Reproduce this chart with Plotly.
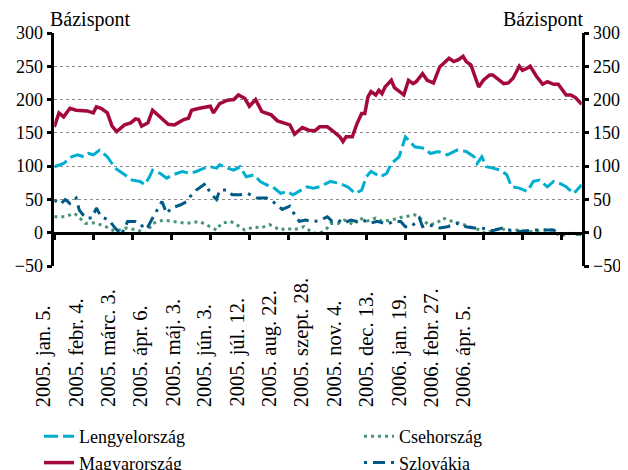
"""
Bázispont-különbözetek (Lengyel-, Magyar-, Cseh-, Szlovákország), 2005-2006
"""
import plotly.graph_objects as go

# X tengely: megfigyelések sorszáma (napi adatok), értékek bázispontban
hu_idx = [0, 3, 6, 10, 14, 21, 25, 27, 30, 34,
          37, 40, 45, 49, 52, 54, 56, 60, 63, 68,
          73, 77, 83, 86, 88, 93, 100, 102, 106, 111,
          115, 118, 122, 125, 129, 133, 136, 139, 143, 148,
          151, 154, 159, 163, 167, 170, 175, 179, 183, 185,
          187, 191, 194, 197, 199, 201, 203, 206, 208, 210,
          212, 216, 218, 224, 227, 230, 232, 236, 239, 243,
          247, 253, 256, 259, 262, 264, 267, 270, 272, 275,
          279, 281, 285, 288, 291, 294, 298, 300, 303, 305,
          309, 313, 316, 320, 323, 328, 331, 334, 338]
hu_val = [159, 180, 174, 187, 184, 183, 180, 189, 187, 180,
          160, 152, 162, 165, 171, 170, 160, 165, 184, 174,
          163, 162, 170, 172, 184, 187, 190, 180, 194, 199,
          200, 207, 202, 190, 200, 182, 180, 177, 168, 165,
          162, 148, 158, 154, 153, 159, 159, 152, 144, 137,
          144, 144, 164, 179, 179, 204, 212, 207, 214, 209,
          219, 229, 218, 207, 229, 224, 227, 239, 229, 225,
          249, 262, 257, 260, 265, 257, 252, 232, 219, 229,
          237, 237, 229, 224, 225, 232, 250, 244, 247, 250,
          235, 223, 227, 223, 223, 207, 207, 203, 193]

pl_idx = [0, 6, 11, 15, 19, 22, 25, 29, 34, 39,
          44, 50, 55, 58, 61, 63, 68, 72, 76, 82,
          87, 91, 96, 100, 104, 106, 111, 115, 119, 123,
          128, 132, 136, 140, 145, 149, 153, 157, 162, 166,
          170, 177, 183, 188, 193, 197, 200, 203, 209, 213,
          216, 221, 223, 225, 227, 231, 237, 241, 246, 252,
          258, 264, 269, 271, 274, 277, 281, 286, 290, 293,
          298, 303, 307, 311, 316, 320, 324, 328, 333, 336,
          338]
pl_val = [99, 104, 114, 117, 114, 119, 117, 124, 114, 97,
          89, 79, 77, 72, 84, 94, 89, 82, 87, 92,
          89, 92, 97, 99, 97, 102, 97, 94, 99, 84,
          87, 77, 72, 69, 59, 62, 57, 62, 69, 67,
          69, 77, 74, 69, 59, 64, 84, 92, 84, 89,
          104, 114, 129, 144, 139, 129, 127, 119, 122, 117,
          124, 122, 114, 104, 114, 99, 97, 94, 87, 69,
          67, 62, 77, 79, 69, 77, 74, 69, 59, 67,
          72]

sk_idx = [0, 4, 7, 10, 14, 16, 20, 24, 27, 30,
          35, 39, 43, 47, 52, 55, 58, 60, 63, 69,
          72, 75, 81, 85, 87, 91, 97, 100, 104, 106,
          111, 114, 119, 124, 130, 136, 140, 146, 151, 154,
          157, 161, 165, 170, 175, 178, 182, 185, 190, 194,
          198, 202, 207, 213, 218, 222, 225, 229, 234, 236,
          240, 247, 252, 258, 264, 269, 274, 281, 287, 292,
          298, 307, 313, 320, 324, 331, 335, 338]
sk_val = [49, 43, 50, 44, 52, 34, 22, 22, 37, 24,
          19, 7, -3, 17, 17, 14, 5, 9, 22, 47,
          29, 37, 42, 47, 54, 64, 74, 59, 50, 64,
          64, 57, 57, 59, 52, 52, 47, 35, 40, 27,
          17, 19, 17, 18, 24, 17, 19, 14, 19, 17,
          19, 14, 17, 13, 17, 17, 9, 9, 22, 9,
          12, 7, 9, 14, 9, 7, 7, 3, 7, 4,
          2, 4, 4, 4, -3, -1, -1, -3]

cz_idx = [0, 7, 13, 20, 26, 33, 39, 46, 53, 59,
          63, 70, 76, 85, 93, 100, 104, 107, 113, 119,
          122, 128, 132, 138, 145, 149, 153, 160, 165, 169,
          174, 177, 182, 186, 192, 196, 200, 206, 210, 216,
          222, 227, 231, 236, 240, 245, 249, 255, 260, 266,
          273, 276, 280, 286, 291, 296, 303, 307, 312, 319,
          324, 331, 336]
cz_val = [24, 24, 29, 14, 15, 9, 2, 7, 4, -1,
          14, 19, 17, 14, 17, 9, 4, 14, 17, 9,
          4, 9, 7, 12, 4, 7, 4, 9, 1, -2,
          4, 14, 14, 19, 12, 22, 17, 22, 17, 19,
          23, 25, 27, 19, 12, 14, 22, 17, 14, 9,
          4, -1, 2, 7, 2, 4, 2, 2, 4, 4,
          -5, -1, -3]

date_labels = ["2005. jan. 5.", "2005. febr. 4.", "2005. márc. 3.",
               "2005. ápr. 6.", "2005. máj. 3.", "2005. jún. 3.",
               "2005. júl. 12.", "2005. aug. 22.", "2005. szept. 28.",
               "2005. nov. 4.", "2005. dec. 13.", "2006. jan. 19.",
               "2006. febr. 27.", "2006. ápr. 5."]

for a, b in [(hu_idx, hu_val), (pl_idx, pl_val), (sk_idx, sk_val), (cz_idx, cz_val)]:
    assert len(a) == len(b)

FONT = "'Liberation Serif', 'Times New Roman', Times, serif"
N_OBS = 338
Y_MIN, Y_MAX = -50, 300

# elrendezés: a böngésző 8 px-es body-margóját levonva, margó nélküli ábra
OFF = 8
W, H = 628 - OFF, 470 - OFF


def fx(px):
    # oldal-pixel -> papír x
    return (px - OFF) / W


def fy(py):
    # oldal-pixel (fentről) -> papír y
    return (H - (py - OFF)) / H


X_DOM = [fx(54.3), fx(581.7)]
Y_DOM = [fy(266), fy(33)]
ZERO_POS = Y_DOM[0] + (0 - Y_MIN) / (Y_MAX - Y_MIN) * (Y_DOM[1] - Y_DOM[0])

fig = go.Figure()

fig.add_trace(go.Scatter(
    x=pl_idx, y=pl_val, mode='lines', name='Lengyelország',
    line=dict(color='#00AECF', width=3, dash='14px,5px'),
    legend='legend',
))
fig.add_trace(go.Scatter(
    x=hu_idx, y=hu_val, mode='lines', name='Magyarország',
    line=dict(color='#A3093A', width=3.5),
    legend='legend',
))
fig.add_trace(go.Scatter(
    x=cz_idx, y=cz_val, mode='lines', name='Csehország',
    line=dict(color='#479672', width=3, dash='3px,4px'),
    legend='legend2',
))
# a jobb oldali tengely is ugyanazt a skálát mutatja
fig.add_trace(go.Scatter(
    x=sk_idx, y=sk_val, mode='lines', name='Szlovákia', yaxis='y2',
    line=dict(color='#005A87', width=3, dash='3px,6px,12px,6px'),
    legend='legend2',
))

# dátumfeliratok (elforgatva, alul igazítva)
for k, lab in enumerate(date_labels):
    fig.add_annotation(
        text=lab, xref='paper', yref='paper',
        x=fx(43.3 + 32.3 * k), y=fy(409),
        xanchor='center', yanchor='bottom', textangle=-90,
        showarrow=False, font=dict(family=FONT, size=20.5, color='black'),
    )

# tengelycímek
fig.add_annotation(text='Bázispont', xref='paper', yref='paper', x=fx(48), y=fy(19),
                   xanchor='left', yanchor='middle', showarrow=False,
                   font=dict(family=FONT, size=20, color='black'))
fig.add_annotation(text='Bázispont', xref='paper', yref='paper', x=fx(585), y=fy(19),
                   xanchor='right', yanchor='middle', showarrow=False,
                   font=dict(family=FONT, size=20, color='black'))

axis_y = dict(
    range=[Y_MIN, Y_MAX], dtick=50, tick0=0, domain=Y_DOM,
    showline=True, linecolor='black', linewidth=2.5,
    ticks='outside', ticklen=5, tickwidth=2.5, tickcolor='black',
    tickfont=dict(family=FONT, size=18, color='black'),
    zeroline=False,
)

fig.update_layout(
    width=W, height=H,
    font=dict(family=FONT, color='black'),
    margin=dict(l=0, r=0, t=0, b=0, autoexpand=False),
    plot_bgcolor='white', paper_bgcolor='white',
    xaxis=dict(
        range=[0, N_OBS], domain=X_DOM, anchor='free', position=ZERO_POS,
        showline=True, linecolor='black', linewidth=2.5,
        tickvals=list(range(0, N_OBS, 25)), ticks='outside', ticklen=6,
        tickwidth=2.5, tickcolor='black', showticklabels=False,
        showgrid=False, zeroline=False,
    ),
    yaxis=dict(**axis_y, showgrid=True, gridcolor='#8C8C8C', griddash='dot', gridwidth=1),
    yaxis2=dict(**axis_y, overlaying='y', side='right', anchor='x', showgrid=False),
    legend=dict(x=fx(39), y=fy(418), xanchor='left', yanchor='top',
                bgcolor='rgba(0,0,0,0)', tracegroupgap=0,
                font=dict(family=FONT, size=18, color='black')),
    legend2=dict(x=fx(359), y=fy(418), xanchor='left', yanchor='top',
                 bgcolor='rgba(0,0,0,0)', tracegroupgap=0,
                 font=dict(family=FONT, size=18, color='black')),
    showlegend=True,
)

fig.write_html("out.html")
